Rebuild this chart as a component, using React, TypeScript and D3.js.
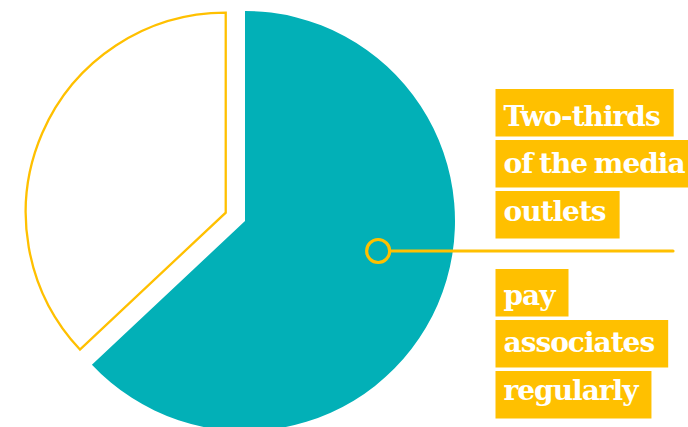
import React, { useLayoutEffect, useRef, useState } from "react";
import * as d3 from "d3";

const categories = ["Pay associates regularly", "Others"];
const shares = [63, 37];
const upperLines = ["Two-thirds", "of the media", "outlets"];
const lowerLines = ["pay", "associates", "regularly"];

const TEAL = "#02B0B7";
const YELLOW = "#FFC000";
const W = 688;
const H = 427;

export default function App() {
  const textRefs = useRef<(SVGTextElement | null)[]>([]);
  const [widths, setWidths] = useState<number[]>([]);

  useLayoutEffect(() => {
    setWidths(textRefs.current.map((t) => (t ? t.getComputedTextLength() : 0)));
  }, []);

  const cx = 245;
  const cy = 221;
  const R = 210;
  const pie = d3.pie<number>().sort(null).value((d) => d).startAngle(0).endAngle(2 * Math.PI);
  const arcs = pie(shares);
  const tealArc = d3.arc<d3.PieArcDatum<number>>().innerRadius(0).outerRadius(R);
  const outlineArc = d3.arc<d3.PieArcDatum<number>>().innerRadius(0).outerRadius(200);

  const other = arcs[1];
  const mid = (other.startAngle + other.endAngle) / 2;
  const explode = 21;
  const ox = cx + Math.sin(mid) * explode;
  const oy = cy - Math.cos(mid) * explode;

  // annotation marker inside the teal slice
  const markAngle = (102.7 * Math.PI) / 180;
  const markR = 136.5;
  const mx = cx + Math.sin(markAngle) * markR;
  const my = cy - Math.cos(markAngle) * markR;
  const dotR = 11.5;

  const boxX = 495.5;
  const textX = 503.5;
  const boxH = 47.5;
  const boxStep = 51;
  const lineStep = 47.6;
  const groups = [
    { lines: upperLines, boxTop: 89, baseline: 125.5 },
    { lines: lowerLines, boxTop: 269, baseline: 304.5 },
  ];

  let idx = 0;
  return (
    <div style={{ position: "fixed", left: 0, top: 0, width: W, height: H, background: "#fff" }}>
      <svg width={W} height={H} style={{ display: "block" }}>
        <g transform={`translate(${cx},${cy})`}>
          <path d={tealArc(arcs[0]) || ""} fill={TEAL} />
        </g>
        <g transform={`translate(${ox},${oy})`}>
          <path
            d={outlineArc(other) || ""}
            fill="#fff"
            stroke={YELLOW}
            strokeWidth={2.3}
            strokeLinejoin="miter"
          />
        </g>
        <line
          x1={mx + dotR}
          y1={my}
          x2={673}
          y2={my}
          stroke={YELLOW}
          strokeWidth={3.2}
          strokeLinecap="round"
        />
        <circle cx={mx} cy={my} r={dotR} fill={TEAL} stroke={YELLOW} strokeWidth={3.2} />
        {groups.map((g, gi) =>
          g.lines.map((line, i) => {
            const k = idx++;
            const w = widths[k] || 0;
            return (
              <g key={`${gi}-${i}`}>
                <rect
                  x={boxX}
                  y={g.boxTop + i * boxStep}
                  width={w + 22}
                  height={boxH}
                  fill={YELLOW}
                />
                <text
                  ref={(el) => {
                    textRefs.current[k] = el;
                  }}
                  x={textX}
                  y={g.baseline + i * lineStep}
                  fill="#fff"
                  fontFamily="'DejaVu Serif', serif"
                  fontWeight="bold"
                  fontSize={28}
                  letterSpacing={-1}
                  wordSpacing={-2}
                >
                  {line}
                </text>
              </g>
            );
          })
        )}
      </svg>
    </div>
  );
}
